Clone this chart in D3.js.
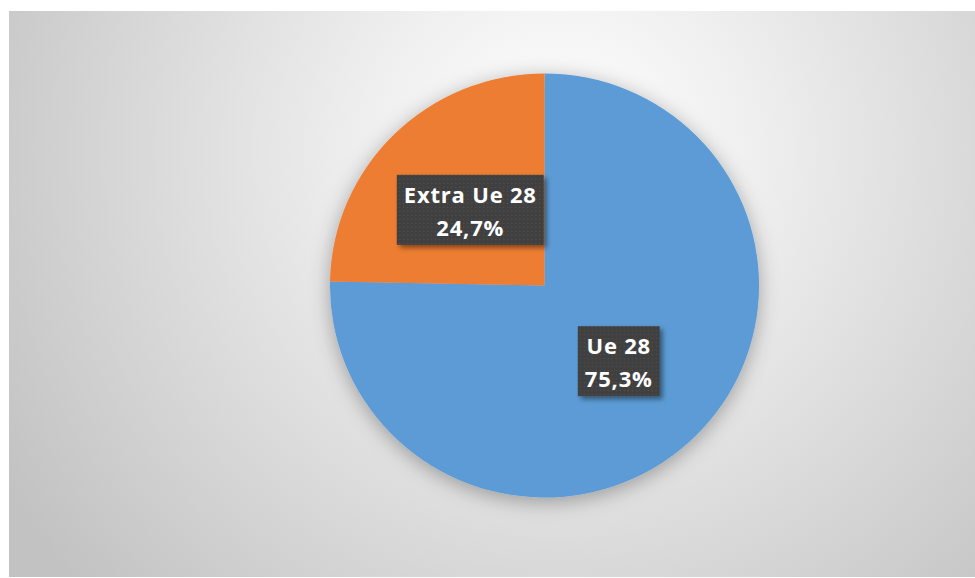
<!DOCTYPE html>
<html lang="it">
<head>
<meta charset="UTF-8" />
<title>Ue 28 / Extra Ue 28</title>
<script src="https://cdn.jsdelivr.net/npm/d3@7"></script>
<style>
  html, body { margin: 0; padding: 0; background: #fff; }
  svg { display: block; }
</style>
</head>
<body>
<div id="chart"></div>
<script>
  // dati
  const categories = ['Extra Ue 28', 'Ue 28']
  const shares = [24.7, 75.3]
  const colors = ['#ED7D31', '#5B9BD5']

  const width = 975
  const height = 578
  const cx = 544.5
  const cy = 285.5
  const r = 212

  const svg = d3.select('#chart').append('svg')
    .attr('width', width)
    .attr('height', height)

  const defs = svg.append('defs')

  const bg = defs.append('radialGradient')
    .attr('id', 'bg')
    .attr('gradientUnits', 'userSpaceOnUse')
    .attr('cx', 560).attr('cy', 150).attr('r', 650)
  bg.append('stop').attr('offset', 0).attr('stop-color', '#ffffff')
  bg.append('stop').attr('offset', 0.3).attr('stop-color', '#efefef')
  bg.append('stop').attr('offset', 1).attr('stop-color', '#c2c2c2')

  const shadow = defs.append('filter').attr('id', 'pieShadow')
    .attr('x', '-20%').attr('y', '-20%').attr('width', '140%').attr('height', '140%')
  shadow.append('feDropShadow')
    .attr('dx', 0).attr('dy', 4).attr('stdDeviation', 10)
    .attr('flood-color', '#000').attr('flood-opacity', 0.32)

  const boxShadow = defs.append('filter').attr('id', 'boxShadow')
    .attr('x', '-20%').attr('y', '-20%').attr('width', '140%').attr('height', '140%')
  boxShadow.append('feDropShadow')
    .attr('dx', 3).attr('dy', 3).attr('stdDeviation', 2.5)
    .attr('flood-color', '#000').attr('flood-opacity', 0.45)

  const dots = defs.append('pattern').attr('id', 'dots')
    .attr('patternUnits', 'userSpaceOnUse')
    .attr('width', 4).attr('height', 4)
  dots.append('rect').attr('width', 4).attr('height', 4).attr('fill', '#404040')
  dots.append('rect').attr('x', 1).attr('y', 1).attr('width', 1).attr('height', 1).attr('fill', '#565656')

  svg.append('rect')
    .attr('x', 9).attr('y', 11)
    .attr('width', width - 9).attr('height', height - 12)
    .attr('fill', 'url(#bg)')

  const pie = d3.pie().sort(null).value(d => d)
  // Excel: la prima fetta parte dall'alto in senso orario -> Ue 28 prima
  const order = [1, 0]
  const arcs = pie(order.map(i => shares[i])).map((a, k) => ({ ...a, idx: order[k] }))

  const arc = d3.arc().innerRadius(0).outerRadius(r)

  const g = svg.append('g').attr('transform', `translate(${cx},${cy}) scale(1.012,1)`)

  g.append('g').attr('filter', 'url(#pieShadow)')
    .selectAll('path')
    .data(arcs)
    .join('path')
    .attr('d', arc)
    .attr('fill', d => colors[d.idx])

  const fmt = v => d3.format('.1f')(v).replace('.', ',') + '%'

  const labels = svg.append('g')
    .attr('transform', `translate(${cx},${cy})`)
    .selectAll('g')
    .data(arcs)
    .join('g')
    .attr('transform', d => {
      const [x, y] = arc.centroid(d)
      return `translate(${x},${y})`
    })

  labels.each(function (d) {
    const el = d3.select(this)
    const box = el.append('rect').attr('fill', 'url(#dots)').attr('filter', 'url(#boxShadow)')
    const txt = el.append('text')
      .attr('text-anchor', 'middle')
      .attr('fill', '#ffffff')
      .attr('font-family', '"Open Sans", "Noto Sans", sans-serif')
      .attr('font-weight', 700)
      .attr('font-size', 22)
      .attr('letter-spacing', 0.8)
    txt.append('tspan').attr('x', 0).attr('y', -7).text(categories[d.idx])
    txt.append('tspan').attr('x', 0).attr('y', 26).text(fmt(shares[d.idx]))
    const bb = txt.node().getBBox()
    const w = bb.width + 14
    const h = 70
    box.attr('x', -w / 2).attr('y', -h / 2).attr('width', w).attr('height', h)
  })
</script>
</body>
</html>
